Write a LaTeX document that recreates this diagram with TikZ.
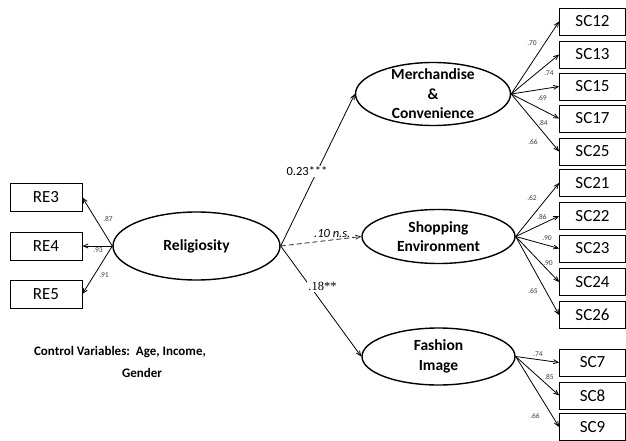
\documentclass[tikz,border=0pt]{standalone}
\usepackage{fontspec}
\setmainfont{Carlito}
\newfontfamily\serifnum{Liberation Serif}
\usetikzlibrary{arrows,shapes.geometric}

\begin{document}
\begin{tikzpicture}[x=1pt,y=-1pt,>=angle 45]
\tikzset{ind/.style={draw,thick,minimum width=66pt,minimum height=27pt,inner sep=0pt,font=\fontsize{17}{17}\selectfont},
  lat/.style={draw,ellipse,line width=1.4pt,inner sep=0pt},
  lattxt/.style={align=center,font=\fontsize{15.5}{19.5}\selectfont\bfseries},
  ld/.style={font=\fontsize{7.5}{7.5}\selectfont,text=black!75,inner sep=0pt},
  coef/.style={fill=white,inner sep=1pt,font=\fontsize{12.5}{12.5}\selectfont}}
\useasboundingbox (0,0) rectangle (626,441);

% latent variables
\node[lat,minimum width=167pt,minimum height=68pt] (r) at (196.5,246) {};
\node[lattxt] (rt) at (r) {Religiosity};
\node[lat,minimum width=155pt,minimum height=63pt] (m) at (433,94) {};
\node[lattxt] (mt) at (m) {Merchandise\\\&\\Convenience};
\node[lat,minimum width=153pt,minimum height=54pt] (s) at (438.5,236.5) {};
\node[lattxt] (st) at (s) {Shopping\\Environment};
\node[lat,minimum width=153pt,minimum height=57pt] (f) at (438.5,356.5) {};
\node[lattxt] (ft) at (f) {Fashion\\Image};

% indicators
\foreach \n/\y in {RE3/197.5,RE4/246,RE5/294}
  \node[ind,minimum width=72pt,minimum height=28pt] (\n) at (46,\y) {\n};
\foreach \n/\y in {SC12/21.5,SC13/54.5,SC15/86.5,SC17/118.5,SC25/151.5,
  SC21/183,SC22/216,SC23/248.5,SC24/282,SC26/315,SC7/362.5,SC8/395.5,SC9/427}
  \node[ind] (\n) at (592.5,\y) {\n};

% loadings
\foreach \n in {RE3,RE4,RE5} \draw[->,thick] (r.west) -- (\n.east);
\foreach \n in {SC12,SC13,SC15,SC17,SC25} \draw[->,thick] (m.east) -- (\n.west);
\foreach \n in {SC21,SC22,SC23,SC24,SC26} \draw[->,thick] (s.east) -- (\n.west);
\foreach \n in {SC7,SC8,SC9} \draw[->,thick] (f.east) -- (\n.west);

\foreach \v/\x/\y [count=\i] in {.87/108/219,.93/98/250,.91/104/275,
  .70/532/43,.74/549/73,.69/542/98,.84/543/123,.66/533/142,
  .62/532/198,.86/542/217,.90/547/238,.90/548/263,.65/533/291,
  .74/538/354,.85/549/377,.66/535/416}
  \node[ld] (ld\i) at (\x,\y) {\v};

% structural paths
\draw[->,thick] (r.east) -- (m.west) node[coef,pos=0.49,xshift=-10pt] {0.23***};
\draw[->,thick,dash pattern=on 5pt off 3pt,black!85] (r.east) -- (s.west) node[pos=0.64,above,inner sep=2pt,text=black,font=\fontsize{12.5}{12.5}\selectfont\itshape] {.10 n.s.};
\draw[->,thick] (r.east) -- (f.west) node[coef,pos=0.37,xshift=12pt,font=\fontsize{12.5}{12.5}\selectfont\serifnum] {.18**};

\node[font=\fontsize{13}{13}\selectfont\bfseries] (ctl1) at (120,352) {Control Variables:\ \ Age, Income,};
\node[font=\fontsize{13}{13}\selectfont\bfseries] (ctl2) at (142,373) {Gender};
\end{tikzpicture}
\end{document}
